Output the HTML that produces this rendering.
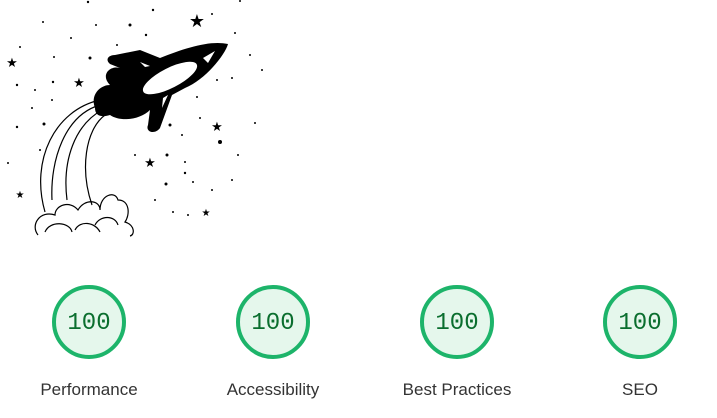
<!DOCTYPE html>
<html><head><style>
body{margin:0;width:717px;height:418px;background:#fff;overflow:hidden;position:relative;font-family:"Liberation Sans",sans-serif}
.g{position:absolute;top:285px;width:74px;height:74px;box-sizing:border-box;border:4px solid #1db46a;border-radius:50%;background:#e5f7ec;text-align:center;line-height:70px;font-family:"Liberation Mono",monospace;font-size:24px;color:#0a6e2e}
.l{position:absolute;top:380px;width:160px;text-align:center;font-size:17px;color:#333}
</style></head><body>
<svg width="270" height="245" style="position:absolute;left:0;top:0">
<g fill="#000">
<circle cx="88" cy="2" r="1.2"/><circle cx="153" cy="10" r="1.2"/><circle cx="43" cy="22" r="1"/><circle cx="130" cy="25" r="1.5"/><circle cx="96" cy="25" r="1"/><circle cx="146" cy="35" r="1.2"/><circle cx="71" cy="38" r="1"/><circle cx="20" cy="47" r="1"/><circle cx="117" cy="45" r="1"/><circle cx="90" cy="58" r="1.5"/><circle cx="54" cy="57" r="1"/><circle cx="17" cy="85" r="1.2"/><circle cx="53" cy="82" r="1.2"/><circle cx="35" cy="90" r="1"/><circle cx="52" cy="100" r="1"/><circle cx="32" cy="108" r="1"/><circle cx="17" cy="127" r="1.2"/><circle cx="44" cy="124" r="1.5"/><circle cx="40" cy="150" r="1"/><circle cx="8" cy="163" r="1"/><circle cx="170" cy="125" r="1.5"/><circle cx="182" cy="135" r="1"/><circle cx="220" cy="142" r="2"/><circle cx="197" cy="97" r="1"/><circle cx="217" cy="80" r="1"/><circle cx="232" cy="78" r="1"/><circle cx="200" cy="118" r="1"/><circle cx="255" cy="123" r="1"/><circle cx="238" cy="155" r="1"/><circle cx="167" cy="155" r="1.5"/><circle cx="135" cy="155" r="1"/><circle cx="185" cy="162" r="1"/><circle cx="185" cy="173" r="1.2"/><circle cx="166" cy="184" r="1.5"/><circle cx="193" cy="182" r="1"/><circle cx="212" cy="190" r="1"/><circle cx="232" cy="180" r="1"/><circle cx="155" cy="200" r="1"/><circle cx="173" cy="212" r="1"/><circle cx="188" cy="215" r="1"/><circle cx="235" cy="33" r="1"/><circle cx="250" cy="55" r="1"/><circle cx="262" cy="70" r="1"/><circle cx="212" cy="14" r="1"/><circle cx="240" cy="1" r="1"/>
</g>
<g font-size="13" font-family="DejaVu Sans" text-anchor="middle">
<text x="197" y="27" font-size="18">★</text><text x="12" y="67">★</text><text x="79" y="87">★</text><text x="217" y="131">★</text><text x="150" y="167">★</text><text x="20" y="198" font-size="10">★</text><text x="206" y="216" font-size="10">★</text>
</g>
<g fill="none" stroke="#000" stroke-width="1.2">
<path d="M100,100 C55,110 30,160 45,212"/>
<path d="M100,105 C65,115 50,160 52,200"/>
<path d="M102,110 C75,125 62,160 67,200"/>
<path d="M105,115 C85,130 80,170 92,205"/>
<path d="M38,235 C30,225 40,210 55,215 C55,205 70,200 78,210 C85,198 100,200 100,210 C100,195 115,190 118,200 C130,200 130,215 125,222 C135,225 135,235 130,236"/>
<path d="M45,232 C50,220 70,222 72,232 M75,230 C80,220 95,222 100,232 M95,225 C100,215 115,215 118,225"/>
</g>
<g fill="#000">
<path d="M95,108 C90,95 100,85 110,85 C100,75 110,65 120,68 L110,64 C105,60 108,55 115,55 L140,50 L160,58 C185,48 210,40 228,44 C225,55 205,80 185,88 L172,95 L160,128 C155,135 145,132 148,125 L150,110 C140,120 120,122 110,115 C100,118 95,115 95,108Z"/>
</g>
<g fill="#fff">
<ellipse cx="170" cy="78" rx="30" ry="10" transform="rotate(-27 170 78)"/>
<path d="M203,58 L215,51 L208,63Z"/>
<path d="M140,62 L150,66 L145,67Z"/>
<path d="M163,98 L168,95 L162,108Z"/>
</g>
</svg>
<div class="g" style="left:52px">100</div><div class="l" style="left:9px">Performance</div>
<div class="g" style="left:236px">100</div><div class="l" style="left:193px">Accessibility</div>
<div class="g" style="left:420px">100</div><div class="l" style="left:377px">Best Practices</div>
<div class="g" style="left:603px">100</div><div class="l" style="left:560px">SEO</div>
</body></html>
